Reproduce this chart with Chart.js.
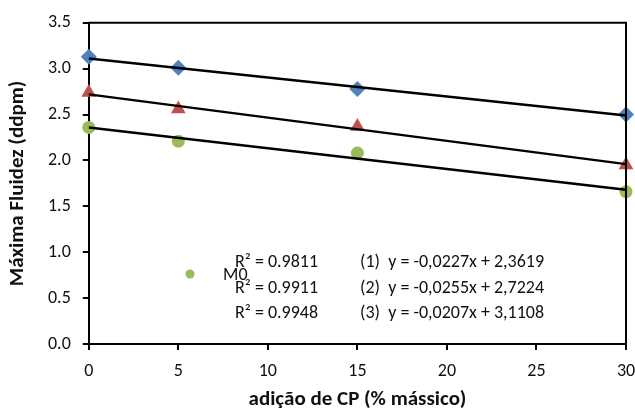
<!DOCTYPE html>
<html>
<head>
<meta charset="utf-8">
<script src="https://cdn.jsdelivr.net/npm/chart.js@4.4.1/dist/chart.umd.min.js"></script>
<style>
  html, body { margin: 0; padding: 0; background: #fff; overflow: hidden; }
  #chart { display: block; }
</style>
</head>
<body>
<canvas id="chart" width="635" height="409"></canvas>
<script>
const FONT = 'Carlito, Lato, "Open Sans", sans-serif';

// data
const cpAddition = [0, 5, 15, 30];
const serie1 = [2.36, 2.21, 2.08, 1.66];   // green circles
const serie2 = [2.74, 2.56, 2.37, 1.95];   // red triangles
const serie3 = [3.13, 3.01, 2.78, 2.50];   // blue diamonds
const trendX = [0, 30];
const trend1 = [2.36, 1.68];
const trend2 = [2.72, 1.96];
const trend3 = [3.11, 2.49];
const r2Labels = ['R² = 0.9811', 'R² = 0.9911', 'R² = 0.9948'];
const eqLabels = ['(1)  y = -0,0227x + 2,3619', '(2)  y = -0,0255x + 2,7224', '(3)  y = -0,0207x + 3,1108'];
const legendLabel = 'M0';

const pts = (xs, ys) => xs.map((x, i) => ({ x, y: ys[i] }));

const marker = (data, color, style, radius) => ({
  type: 'scatter', data, showLine: false,
  pointStyle: style, pointRadius: radius, pointHoverRadius: radius,
  backgroundColor: color, borderColor: color, borderWidth: 0
});
const trend = data => ({
  type: 'line', data, borderColor: '#000', borderWidth: 2.5,
  pointRadius: 0, fill: false, tension: 0
});

// frame, annotation texts and the stray legend entry
const extras = {
  id: 'extras',
  afterDraw(chart) {
    const { ctx, chartArea: a } = chart;
    ctx.save();
    ctx.strokeStyle = '#000';
    ctx.lineWidth = 2;
    ctx.beginPath();
    ctx.moveTo(a.left, a.top); ctx.lineTo(a.right, a.top); ctx.lineTo(a.right, a.bottom);
    ctx.stroke();

    ctx.font = '18px ' + FONT;
    ctx.fillStyle = '#111';
    ctx.textBaseline = 'middle';
    ctx.textAlign = 'left';
    const rows = [262, 288, 313];
    rows.forEach((y, i) => {
      ctx.fillText(r2Labels[i], 235, y);
      ctx.fillText(eqLabels[i], 360, y);
    });

    ctx.fillStyle = '#9BBB59';
    ctx.beginPath(); ctx.arc(190, 274, 4.5, 0, Math.PI * 2); ctx.fill();
    ctx.fillStyle = '#111';
    ctx.fillText(legendLabel, 223, 275);
    ctx.restore();
  }
};

new Chart(document.getElementById('chart'), {
  data: {
    datasets: [
      trend(pts(trendX, trend1)),
      trend(pts(trendX, trend2)),
      trend(pts(trendX, trend3)),
      marker(pts(cpAddition, serie1), '#9BBB59', 'circle', 6.5),
      marker(pts(cpAddition, serie2), '#C0504D', 'triangle', 8.5),
      marker(pts(cpAddition, serie3), '#4F81BD', 'rectRot', 8)
    ]
  },
  options: {
    responsive: false,
    animation: false,
    clip: false,
    layout: { padding: { top: 22, right: 0, left: 7, bottom: 0 } },
    plugins: { legend: { display: false }, tooltip: { enabled: false } },
    scales: {
      x: {
        type: 'linear', min: 0, max: 30,
        afterFit: s => { s.paddingRight = 9; s.height = 65; },
        border: { color: '#000', width: 2 },
        grid: { drawOnChartArea: false, color: '#000', lineWidth: 2, tickLength: 6 },
        ticks: { stepSize: 5, color: '#111', padding: 11, font: { family: FONT, size: 18 } },
        title: { display: true, text: 'adição de CP (% mássico)', color: '#111', padding: { top: 0, bottom: 0 },
                 font: { family: FONT, size: 21, weight: 'bold', lineHeight: 0.9 } }
      },
      y: {
        min: 0, max: 3.5,
        border: { color: '#000', width: 2 },
        grid: { drawOnChartArea: false, color: '#000', lineWidth: 2, tickLength: 6 },
        ticks: { stepSize: 0.5, color: '#111', padding: 12, font: { family: FONT, size: 18 },
                 callback: v => v.toFixed(1) },
        title: { display: true, text: 'Máxima Fluidez (ddpm)', color: '#111', padding: { top: 0, bottom: 8 },
                 font: { family: FONT, size: 21, weight: 'bold', lineHeight: 1 } }
      }
    }
  },
  plugins: [extras]
});
</script>
</body>
</html>
